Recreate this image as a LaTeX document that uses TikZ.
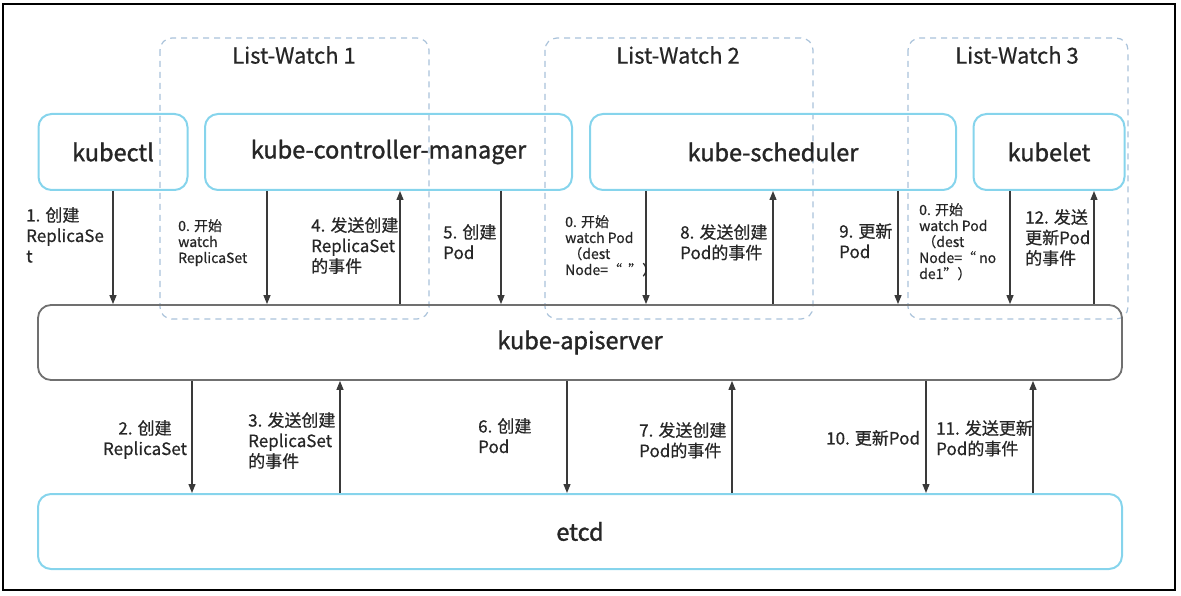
\documentclass[tikz,border=0pt]{standalone}
\usepackage{fontspec}
\setmainfont{Noto Sans CJK SC}
\newfontfamily\heavyfont{Noto Sans CJK SC}[FakeBold=1.4]
\newfontfamily\medfont{Noto Sans CJK SC}[FakeBold=0.6]
\usetikzlibrary{arrows.meta}
\definecolor{boxcyan}{HTML}{86D4EC}
\definecolor{apigray}{HTML}{707070}
\definecolor{dashblue}{HTML}{A9C2DA}
\definecolor{arrgray}{HTML}{3A3A3A}
\definecolor{txt}{HTML}{262626}
\tikzset{
  cbox/.style={draw=boxcyan, line width=2pt, rounded corners=13pt, inner sep=0pt, text=txt, font=\heavyfont\fontsize{23.5}{26}\selectfont},
  gbox/.style={draw=apigray, line width=1.8pt, rounded corners=13pt, inner sep=0pt, text=txt, font=\heavyfont\fontsize{23.5}{26}\selectfont},
  lwbox/.style={draw=dashblue, line width=1.2pt, dash pattern=on 6pt off 5pt, rounded corners=12pt},
  lwtitle/.style={text=txt, font=\medfont\fontsize{22}{26}\selectfont, inner sep=0pt},
  arr/.style={draw=arrgray, line width=1.2pt, -{Triangle[length=9pt,width=7pt]}},
  lab/.style={text=txt, font=\medfont\fontsize{17}{20.5}\selectfont, align=left, inner sep=0pt, anchor=north west},
  slab/.style={text=txt, font=\medfont\fontsize{14}{16}\selectfont, align=left, inner sep=0pt, anchor=north west},
}
\begin{document}
\begin{tikzpicture}[x=1pt,y=-1pt]
\useasboundingbox (0,0) rectangle (1181,596);
\draw[line width=2.5pt] (3,4) rectangle (1175,590);
% List-Watch regions
\draw[lwbox] (160,38) rectangle (429,319);
\draw[lwbox] (545,38) rectangle (813,319);
\draw[lwbox] (908,38) rectangle (1128,319);
\node[lwtitle] (lw1) at (294,55) {List-Watch 1};
\node[lwtitle] (lw2) at (678,55) {List-Watch 2};
\node[lwtitle] (lw3) at (1017,55) {List-Watch 3};
% boxes
\node[cbox, minimum width=149pt, minimum height=76pt] (kubectl) at (113,152) {kubectl};
\node[cbox, minimum width=367pt, minimum height=76pt] (kcm) at (388.5,152) {kube-controller-manager};
\node[cbox, minimum width=366pt, minimum height=76pt] (sched) at (773,152) {kube-scheduler};
\node[cbox, minimum width=151pt, minimum height=76pt] (kubelet) at (1049,152) {kubelet};
\node[gbox, minimum width=1084pt, minimum height=75pt] (api) at (580,342.5) {kube-apiserver};
\node[cbox, minimum width=1084pt, minimum height=75pt] (etcd) at (580,531.5) {etcd};
% arrow x positions
\coordinate (a1) at (113,0);
\coordinate (a0a) at (267,0);
\coordinate (a4) at (400,0);
\coordinate (a5) at (501,0);
\coordinate (a0b) at (646,0);
\coordinate (a8) at (773,0);
\coordinate (a9) at (898,0);
\coordinate (a0c) at (1010,0);
\coordinate (a12) at (1094,0);
\coordinate (b2) at (192,0);
\coordinate (b3) at (340,0);
\coordinate (b6) at (567,0);
\coordinate (b7) at (732,0);
\coordinate (b10) at (926,0);
\coordinate (b11) at (1033,0);
% top arrows
\draw[arr] (kubectl.south -| a1) -- (api.north -| a1);
\draw[arr] (kcm.south -| a0a) -- (api.north -| a0a);
\draw[arr] (api.north -| a4) -- (kcm.south -| a4);
\draw[arr] (kcm.south -| a5) -- (api.north -| a5);
\draw[arr] (sched.south -| a0b) -- (api.north -| a0b);
\draw[arr] (api.north -| a8) -- (sched.south -| a8);
\draw[arr] (sched.south -| a9) -- (api.north -| a9);
\draw[arr] (kubelet.south -| a0c) -- (api.north -| a0c);
\draw[arr] (api.north -| a12) -- (kubelet.south -| a12);
% bottom arrows
\draw[arr] (api.south -| b2) -- (etcd.north -| b2);
\draw[arr] (etcd.north -| b3) -- (api.south -| b3);
\draw[arr] (api.south -| b6) -- (etcd.north -| b6);
\draw[arr] (etcd.north -| b7) -- (api.south -| b7);
\draw[arr] (api.south -| b10) -- (etcd.north -| b10);
\draw[arr] (etcd.north -| b11) -- (api.south -| b11);
% top labels
\node[lab] (l1) at (26,207) {1. 创建\\ReplicaSe\\t};
\node[slab] (l0a) at (178,219) {0. 开始\\watch\\ReplicaSet};
\node[lab] (l4) at (311,217) {4. 发送创建\\ReplicaSet\\的事件};
\node[lab] (l5) at (443,224) {5. 创建\\Pod};
\node[slab] (l0b) at (565,215) {0. 开始\\watch Pod\\\ （dest\\Node=“\ \ ”）};
\node[lab] (l8) at (680,224) {8. 发送创建\\Pod的事件};
\node[lab] (l9) at (839,223) {9. 更新\\Pod};
\node[slab] (l0c) at (919,203) {0. 开始\\watch Pod\\\ （dest\\Node=“\ no\\de1”）};
\node[lab] (l12) at (1025,209) {12. 发送\\更新Pod\\的事件};
% bottom labels
\node[lab, align=center, anchor=north] (l2) at (145,420) {2. 创建\\ReplicaSet};
\node[lab] (l3) at (248,412) {3. 发送创建\\ReplicaSet\\的事件};
\node[lab] (l6) at (478,418) {6. 创建\\Pod};
\node[lab] (l7) at (639,422) {7. 发送创建\\Pod的事件};
\node[lab, anchor=west] (l10) at (826,438) {10. 更新Pod};
\node[lab] (l11) at (936,420) {11. 发送更新\\Pod的事件};
\end{tikzpicture}
\end{document}
